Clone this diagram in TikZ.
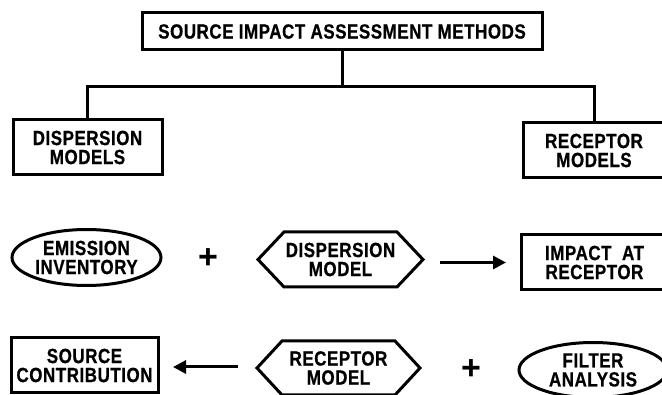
\documentclass[tikz,border=0pt]{standalone}
\usepackage{fontspec}
\setmainfont{Liberation Sans}
\newfontfamily\leroy[FakeStretch=0.83, LetterSpace=2.5, FakeBold=0.6]{Liberation Sans}
\usetikzlibrary{arrows.meta,shapes.geometric}
\begin{document}
\begin{tikzpicture}[x=1pt,y=-1pt,
  ln/.style={line width=3pt, line join=miter},
  lbl/.style={font=\leroy\bfseries\fontsize{20.5}{19}\selectfont, align=center, inner sep=0pt, outer sep=0pt},
  box/.style={lbl, rectangle, draw, ln},
  oval/.style={lbl, ellipse, draw, ln},
  hexbase/.style={lbl, rectangle},
  plussign/.style={font=\bfseries\fontsize{34}{34}\selectfont, inner sep=0pt},
  arr/.style={ln, -{Triangle[length=13pt,width=13pt]}}
]
\useasboundingbox (0,0) rectangle (662,395);
\clip (0,0) rectangle (662,395);
\fill[white] (0,0) rectangle (662,395);

% hierarchy
\node[box, minimum width=400pt, minimum height=37pt] (top) at (342,31.5) {SOURCE IMPACT ASSESSMENT METHODS};
\node[box, minimum width=149pt, minimum height=55pt] (dmod) at (87.5,147.5) {DISPERSION\\MODELS};
\node[box, minimum width=142pt, minimum height=55pt] (rmod) at (594,150.5) {RECEPTOR\\MODELS};
\coordinate (bus) at (342,87);
\draw[ln] (top.south) -- (bus);
\draw[ln] (dmod.north) |- (bus) -| (rmod.north);

% row 3
\node[oval, minimum width=149pt, minimum height=56pt] (emis) at (86.5,257.5) {EMISSION\\INVENTORY};
\node[plussign] (plusa) at (208,259) {+};
\node[hexbase, minimum width=165pt, minimum height=55pt] (dm) at (340.5,259.5) {DISPERSION\\MODEL};
\draw[ln] (dm.west) -- ([xshift=26pt]dm.north west) -- ([xshift=-26pt]dm.north east) -- (dm.east) -- ([xshift=-26pt]dm.south east) -- ([xshift=26pt]dm.south west) -- cycle;
\node[box, minimum width=147pt, minimum height=55pt] (impact) at (594.5,262.5) {IMPACT\ \ AT\\RECEPTOR};
\draw[arr, shorten <=17pt, shorten >=15pt] (dm.east |- impact.west) -- (impact.west);

% row 4
\node[box, minimum width=147pt, minimum height=55pt] (src) at (84.5,365.5) {SOURCE\\CONTRIBUTION};
\node[hexbase, minimum width=163pt, minimum height=54pt] (rm) at (338.5,368) {RECEPTOR\\MODEL};
\draw[ln] (rm.west) -- ([xshift=25pt]rm.north west) -- ([xshift=-25pt]rm.north east) -- (rm.east) -- ([xshift=-25pt]rm.south east) -- ([xshift=25pt]rm.south west) -- cycle;
\node[plussign] (plusb) at (471,370) {+};
\node[oval, minimum width=148pt, minimum height=55pt] (filt) at (593,370) {FILTER\\ANALYSIS};
\draw[arr, shorten <=19pt, shorten >=15pt] (rm.west |- src.east) ++(0,1.5) coordinate (rmw) (rmw) -- (src.east |- rmw);
\end{tikzpicture}
\end{document}
